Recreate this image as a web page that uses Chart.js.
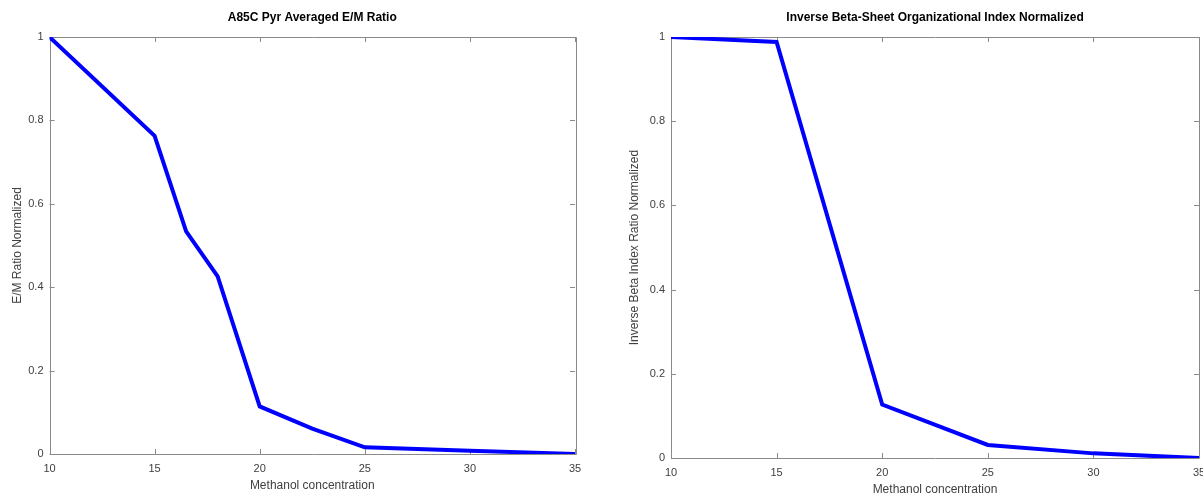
<!DOCTYPE html>
<html>
<head>
<meta charset="utf-8">
<title>Methanol concentration series</title>
<script src="https://cdn.jsdelivr.net/npm/chart.js@4/dist/chart.umd.min.js"></script>
<style>
  html, body { margin:0; padding:0; background:#fff; overflow:hidden; width:1203px; height:494px; }
  .panel { position:absolute; top:0; }
  #leftPanel { left:0; }
  #rightPanel { left:600px; }
</style>
</head>
<body>
<div class="panel" id="leftPanel"><canvas id="emChart" width="600" height="494"></canvas></div>
<div class="panel" id="rightPanel"><canvas id="betaChart" width="620" height="500"></canvas></div>
<script>
// data
const emConc = [10, 15, 16.5, 18, 20, 22.5, 25, 30, 35];
const emRatio = [1.0, 0.763, 0.534, 0.426, 0.114, 0.061, 0.016, 0.008, 0.0];

const betaConc = [10, 15, 20, 25, 30, 35];
const betaIndex = [1.0, 0.988, 0.127, 0.031, 0.011, 0.0];

const xTicks = [10, 15, 20, 25, 30, 35];
const yTicks = [0, 0.2, 0.4, 0.6, 0.8, 1];

const AXIS = '#8a8a8a';
const LABEL = '#404040';
const FONT = '"Liberation Sans", Arial, Helvetica, sans-serif';

// matlab-ish box with ticks pointing inwards
const framePlugin = {
  id: 'frame',
  beforeDatasetsDraw(chart){
    const {ctx, chartArea:a, scales:{x, y}} = chart;
    const len = 5;
    ctx.save();
    ctx.strokeStyle = AXIS;
    ctx.lineWidth = 1;
    ctx.beginPath();
    ctx.rect(Math.round(a.left)+0.5, Math.round(a.top)+0.5, Math.round(a.right-a.left), Math.round(a.bottom-a.top));
    x.ticks.forEach(t=>{
      const px = Math.round(x.getPixelForValue(t.value))+0.5;
      ctx.moveTo(px, a.bottom); ctx.lineTo(px, a.bottom-len);
      ctx.moveTo(px, a.top); ctx.lineTo(px, a.top+len);
    });
    y.ticks.forEach(t=>{
      const py = Math.round(y.getPixelForValue(t.value))+0.5;
      ctx.moveTo(a.left, py); ctx.lineTo(a.left+len, py);
      ctx.moveTo(a.right, py); ctx.lineTo(a.right-len, py);
    });
    ctx.stroke();
    ctx.restore();
  }
};

function makeChart(id, cfg){
  const pts = cfg.xs.map((v,i)=>({x:v, y:cfg.ys[i]}));
  return new Chart(document.getElementById(id), {
    type: 'line',
    data: { datasets: [{
      data: pts,
      borderColor: '#0000ff',
      borderWidth: 4,
      pointRadius: 0,
      tension: 0,
      fill: false
    }]},
    options: {
      responsive: false,
      animation: false,
      devicePixelRatio: 1,
      layout: { padding: { left:0, right: cfg.padRight, top:0, bottom:0 } },
      plugins: {
        legend: { display:false },
        tooltip: { enabled:false },
        title: {
          display: true,
          text: cfg.title,
          fullSize: false,
          color: '#000',
          font: { family: FONT, size: 12, weight: 'bold', lineHeight: 1.2 },
          padding: { top: 10, bottom: 12.6 }
        }
      },
      scales: {
        x: {
          type: 'linear',
          min: 10, max: 35,
          afterBuildTicks: s => { s.ticks = xTicks.map(v=>({value:v})); },
          afterFit: s => { s.height = cfg.xHeight; },
          grid: { display:false, drawTicks:false },
          border: { display:false },
          ticks: { color: LABEL, padding: 8.4, font: { family: FONT, size: 11 }, maxRotation: 0,
                   callback: v => String(v) },
          title: { display:true, text:'Methanol concentration', color: LABEL,
                   font: { family: FONT, size: 12 }, padding: { top: 0, bottom: cfg.xTitlePad } }
        },
        y: {
          min: 0, max: 1,
          afterBuildTicks: s => { s.ticks = yTicks.map(v=>({value:v})); },
          afterFit: s => { s.width = cfg.yWidth; },
          grid: { display:false, drawTicks:false },
          border: { display:false },
          ticks: { color: LABEL, padding: 6, font: { family: FONT, size: 11 },
                   callback: v => String(+v.toFixed(1)) },
          title: { display:true, text: cfg.yTitle, color: LABEL,
                   font: { family: FONT, size: 12 }, padding: { top: cfg.yTitlePad, bottom: 0 } }
        }
      }
    },
    plugins: [framePlugin]
  });
}

makeChart('emChart', {
  xs: emConc, ys: emRatio,
  title: 'A85C Pyr Averaged E/M Ratio',
  yTitle: 'E/M Ratio Normalized',
  padRight: 25, yWidth: 49.5, yTitlePad: 10.8, xHeight: 40, xTitlePad: 1.3
});

makeChart('betaChart', {
  xs: betaConc, ys: betaIndex,
  title: 'Inverse Beta-Sheet Organizational Index Normalized',
  yTitle: 'Inverse Beta Index Ratio Normalized',
  padRight: 21, yWidth: 71, yTitlePad: 27.8, xHeight: 42, xTitlePad: 3.3
});
</script>
</body>
</html>
